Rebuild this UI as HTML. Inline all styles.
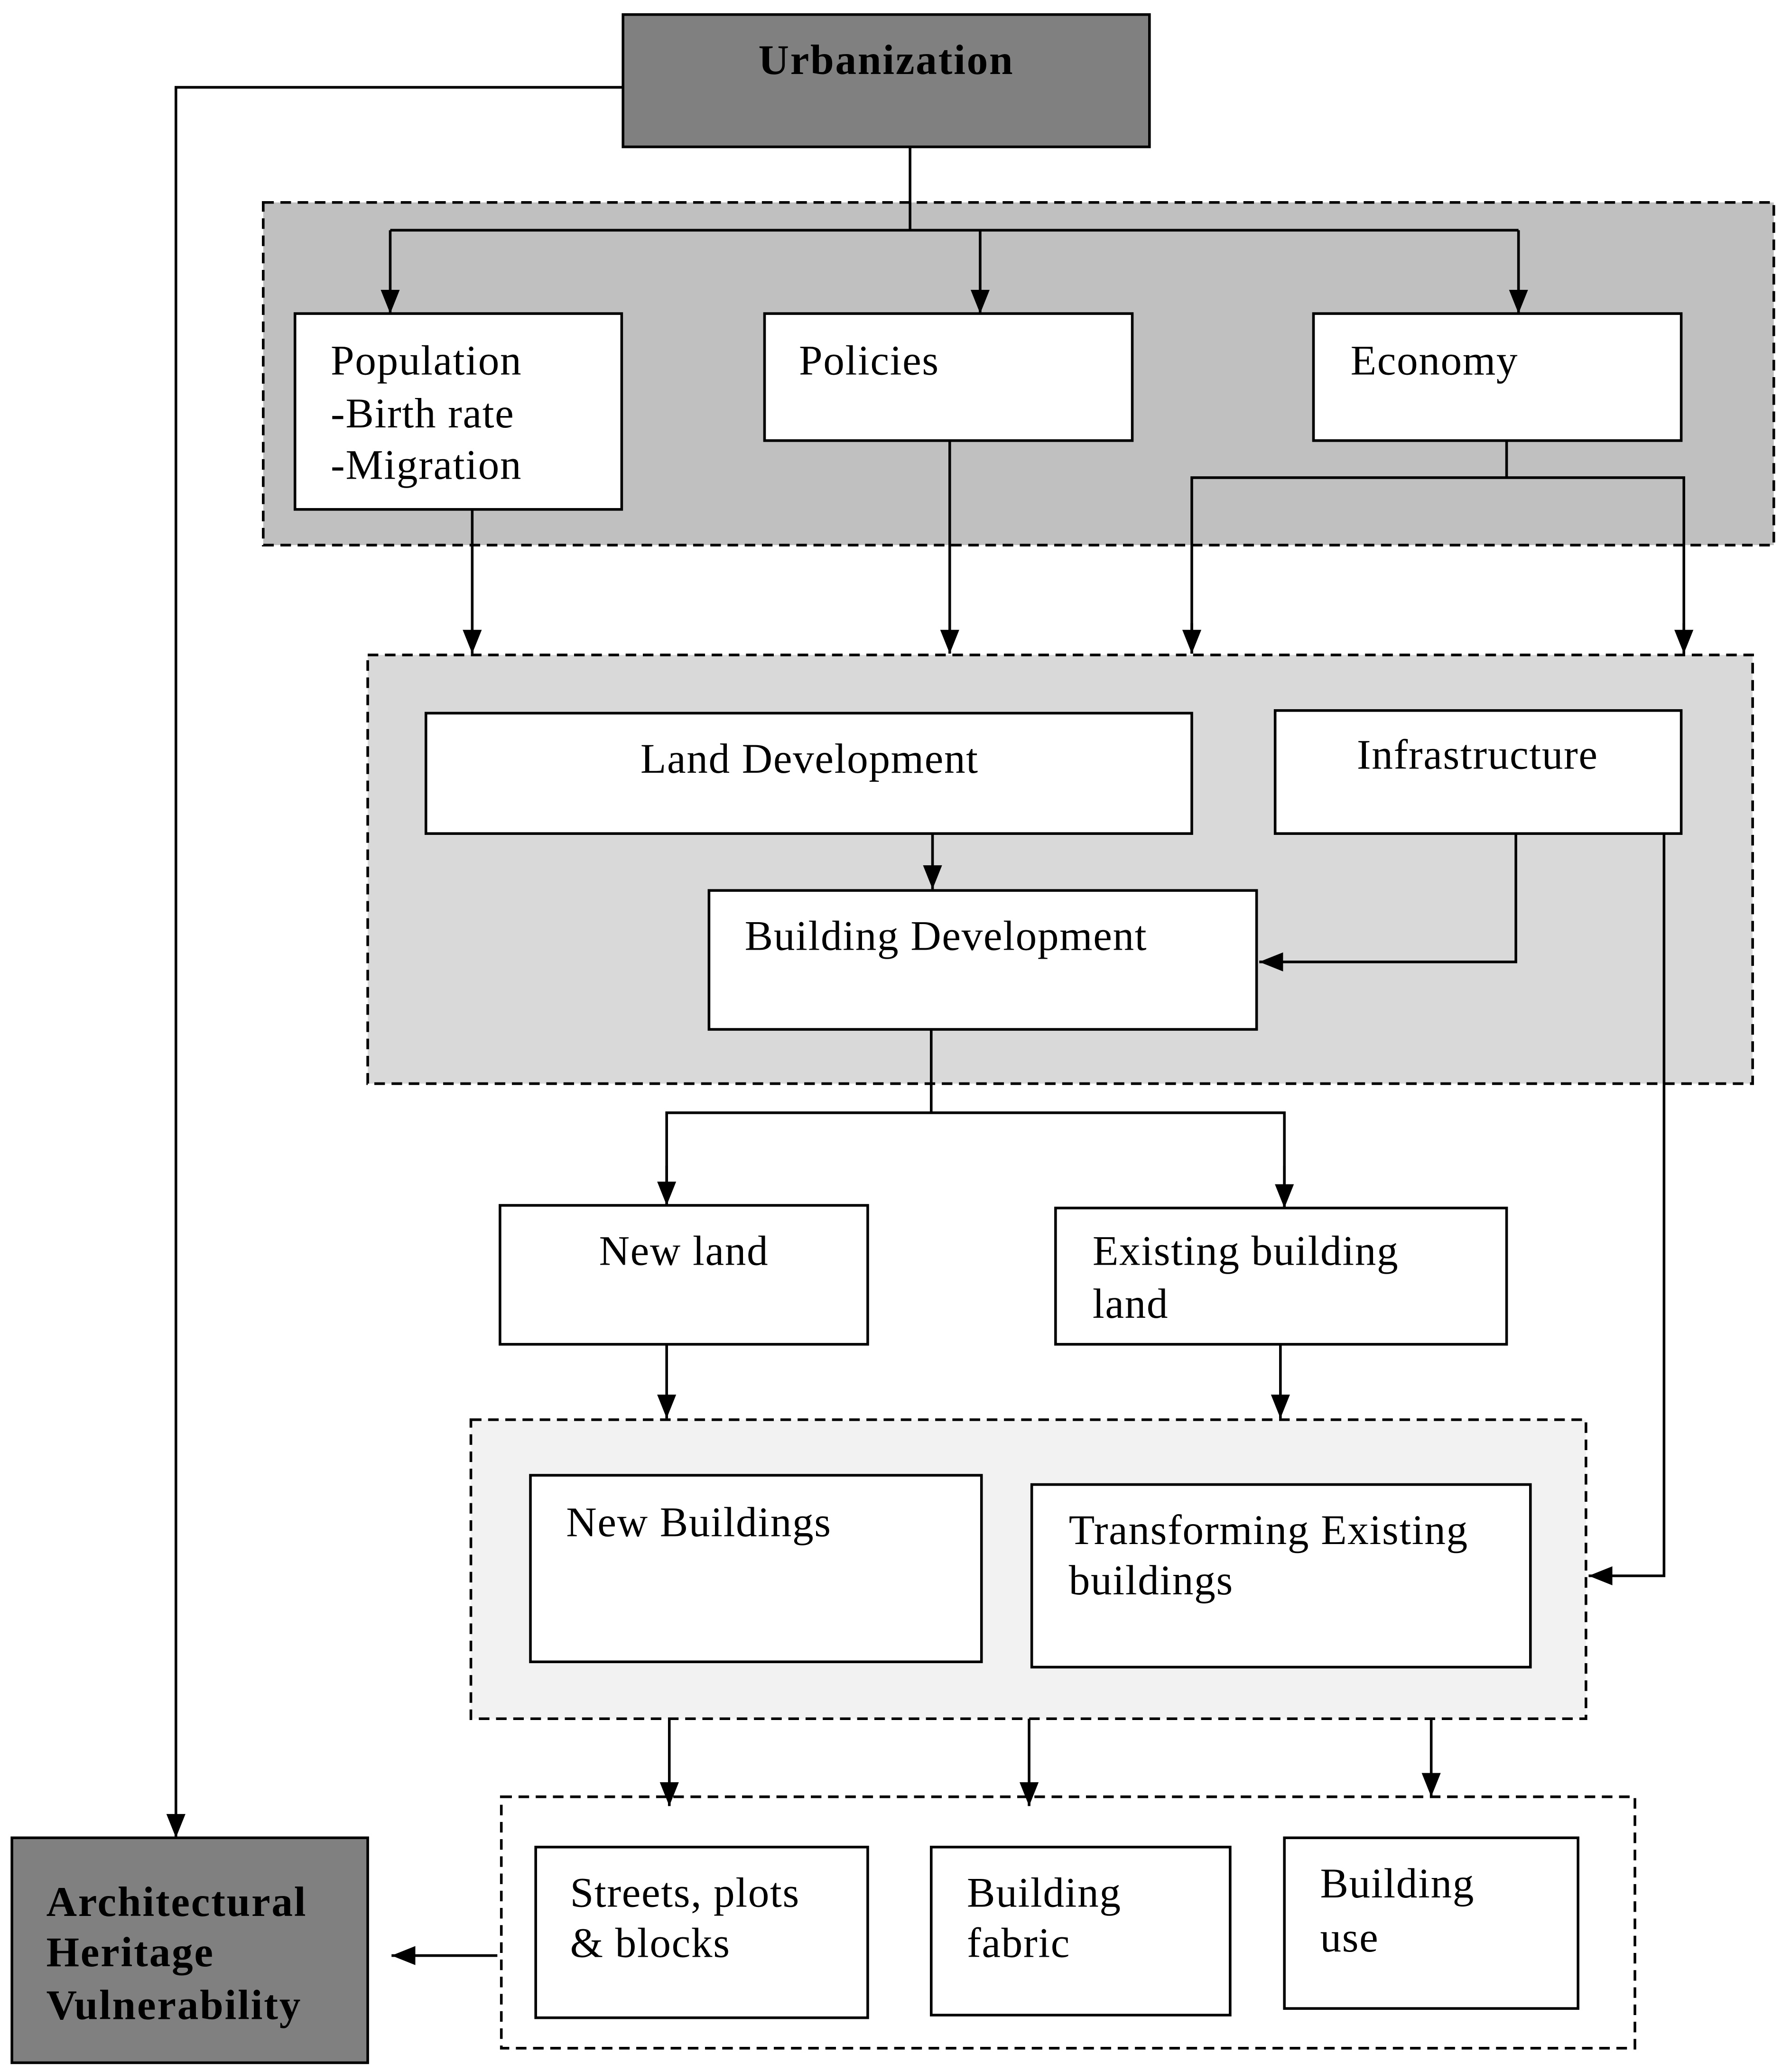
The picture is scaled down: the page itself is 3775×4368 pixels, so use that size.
<!DOCTYPE html>
<html><head><meta charset="utf-8"><style>
html,body{margin:0;padding:0;background:#fff}
svg{display:block}
text{font-family:"Liberation Serif",serif;font-size:32px;letter-spacing:0.6px;fill:#000}
.b{font-weight:bold;font-size:32px;letter-spacing:1px}
</style></head><body>
<svg width="3775" height="4368" viewBox="-1 -1 1354 1566" preserveAspectRatio="none" xmlns="http://www.w3.org/2000/svg">
<defs>
<marker id="h" viewBox="0 0 10 10" markerWidth="18" markerHeight="18" refX="10" refY="5" orient="auto" markerUnits="userSpaceOnUse"><path d="M0,1 L10,5 L0,9 z" fill="#000"/></marker></defs>
<g stroke="#000" stroke-width="2" stroke-dasharray="8,5">
<rect x="198" y="152" width="1142" height="259" fill="#c0c0c0"/>
<rect x="277" y="494" width="1047" height="324" fill="#d9d9d9"/>
<rect x="355" y="1072" width="843" height="226" fill="#f2f2f2"/>
<rect x="378" y="1357" width="857" height="190" fill="#fff"/>
</g>
<g stroke="#000" stroke-width="2" fill="#fff">
<rect x="470" y="10" width="398" height="100" fill="#808080"/>
<rect x="8" y="1388" width="269" height="170" fill="#808080"/>
<rect x="222" y="236" width="247" height="148"/>
<rect x="577" y="236" width="278" height="96"/>
<rect x="992" y="236" width="278" height="96"/>
<rect x="321" y="538" width="579" height="91"/>
<rect x="963" y="536" width="307" height="93"/>
<rect x="535" y="672" width="414" height="105"/>
<rect x="377" y="910" width="278" height="105"/>
<rect x="797" y="912" width="341" height="103"/>
<rect x="400" y="1114" width="341" height="141"/>
<rect x="779" y="1121" width="377" height="138"/>
<rect x="404" y="1395" width="251" height="129"/>
<rect x="703" y="1395" width="226" height="127"/>
<rect x="970" y="1388" width="222" height="129"/>
</g>
<g stroke="#000" stroke-width="2" fill="none">
<polyline points="470,65 132,65 132,1388" marker-end="url(#h)"/>
<polyline points="687,110 687,173"/>
<line x1="294" y1="173" x2="1147" y2="173"/>
<line x1="294" y1="173" x2="294" y2="236" marker-end="url(#h)"/>
<line x1="740" y1="173" x2="740" y2="236" marker-end="url(#h)"/>
<line x1="1147" y1="173" x2="1147" y2="236" marker-end="url(#h)"/>
<line x1="356" y1="384" x2="356" y2="493" marker-end="url(#h)"/>
<line x1="717" y1="332" x2="717" y2="493" marker-end="url(#h)"/>
<line x1="1138" y1="332" x2="1138" y2="360"/>
<polyline points="900,493 900,360 1272,360 1272,493"/>
<line x1="900" y1="470" x2="900" y2="493" marker-end="url(#h)"/>
<line x1="1272" y1="470" x2="1272" y2="493" marker-end="url(#h)"/>
<line x1="704" y1="629" x2="704" y2="671" marker-end="url(#h)"/>
<polyline points="1145,629 1145,726 951,726" marker-end="url(#h)"/>
<polyline points="1257,629 1257,1190 1200,1190" marker-end="url(#h)"/>
<polyline points="703,777 703,840"/>
<polyline points="503,910 503,840 970,840 970,912"/>
<line x1="503" y1="880" x2="503" y2="910" marker-end="url(#h)"/>
<line x1="970" y1="880" x2="970" y2="912" marker-end="url(#h)"/>
<line x1="503" y1="1015" x2="503" y2="1071" marker-end="url(#h)"/>
<line x1="967" y1="1015" x2="967" y2="1071" marker-end="url(#h)"/>
<line x1="505" y1="1298" x2="505" y2="1364" marker-end="url(#h)"/>
<line x1="777" y1="1298" x2="777" y2="1364" marker-end="url(#h)"/>
<line x1="1081" y1="1298" x2="1081" y2="1357" marker-end="url(#h)"/>
<line x1="375" y1="1477" x2="295" y2="1477" marker-end="url(#h)"/>
</g>
<text class="b" x="669" y="55" text-anchor="middle">Urbanization</text>
<text x="249" y="282">Population</text>
<text x="249" y="322">-Birth rate</text>
<text x="249" y="361">-Migration</text>
<text x="603" y="282">Policies</text>
<text x="1020" y="282">Economy</text>
<text x="611" y="583" text-anchor="middle">Land Development</text>
<text x="1116" y="580" text-anchor="middle">Infrastructure</text>
<text x="562" y="717">Building Development</text>
<text x="516" y="955" text-anchor="middle">New land</text>
<text x="825" y="955">Existing building</text>
<text x="825" y="995">land</text>
<text x="427" y="1160">New Buildings</text>
<text x="807" y="1166">Transforming Existing</text>
<text x="807" y="1204">buildings</text>
<text x="430" y="1440">Streets, plots</text>
<text x="430" y="1478">&amp; blocks</text>
<text x="730" y="1440">Building</text>
<text x="730" y="1478">fabric</text>
<text x="997" y="1433">Building</text>
<text x="997" y="1474">use</text>
<text class="b" x="34" y="1447">Architectural</text>
<text class="b" x="34" y="1485">Heritage</text>
<text class="b" x="34" y="1525">Vulnerability</text>
</svg>
</body></html>
